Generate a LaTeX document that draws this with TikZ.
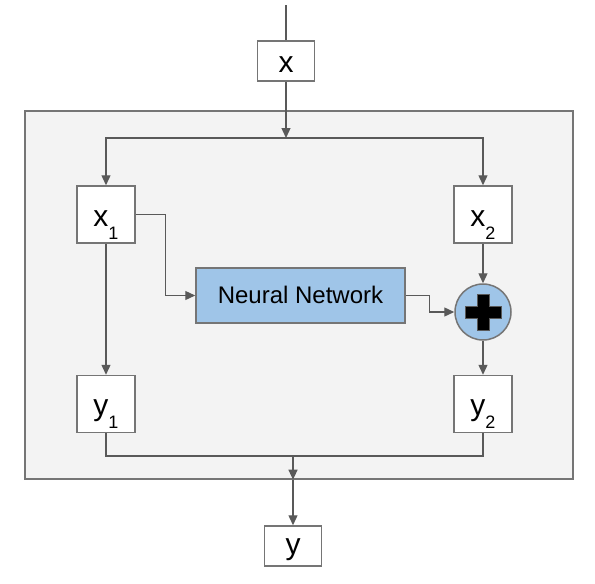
\documentclass[tikz,border=0pt]{standalone}
\usepackage{fontspec}
\setmainfont{Liberation Sans}
\usetikzlibrary{arrows.meta,calc}
\definecolor{linec}{HTML}{595959}
\definecolor{boxc}{HTML}{757575}
\definecolor{outerfill}{HTML}{F3F3F3}
\definecolor{nnfill}{HTML}{9FC5E8}
\newcommand{\bigletter}[2]{\fontsize{30}{30}\selectfont #1\raisebox{-13pt}{\fontsize{18}{18}\selectfont #2}}
\tikzset{
  arr/.style={draw=linec,line width=1.3pt,-{Triangle[length=10pt,width=9pt]}},
  plainline/.style={draw=linec,line width=1.3pt},
  varbox/.style={draw=boxc,fill=white,line width=1.5pt,minimum width=58pt,minimum height=57pt,inner sep=0pt,text height=23pt,text depth=0pt},
  iobox/.style={draw=boxc,fill=white,line width=1.5pt,minimum width=57pt,minimum height=40pt,inner sep=0pt},
}
\begin{document}
\begin{tikzpicture}[x=1pt,y=-1pt]
\useasboundingbox (0,0) rectangle (595,584);
% outer box
\node[draw=boxc,fill=outerfill,line width=1.3pt,minimum width=548pt,minimum height=368pt,inner sep=0pt] (outer) at (299,295) {};
% nodes
\node[iobox,text height=23pt,text depth=0pt] (xbox) at (286,61) {\fontsize{30}{30}\selectfont x};
\node[iobox,text height=17pt,text depth=0pt] (ybox) at (293,546) {\fontsize{30}{30}\selectfont y};
\node[varbox] (x1) at (106,214.5) {\bigletter{x}{1}};
\node[varbox] (x2) at (483,214.5) {\bigletter{x}{2}};
\node[varbox,text height=22pt] (y1) at (106,404) {\bigletter{y}{1}};
\node[varbox,text height=22pt] (y2) at (483,404) {\bigletter{y}{2}};
\node[draw=boxc,fill=nnfill,line width=1.5pt,minimum width=209pt,minimum height=55pt,inner sep=0pt,text height=16pt,text depth=0pt] (nn) at (300.5,295.5) {\fontsize{24}{28}\selectfont Neural Network};
\node[circle,draw=boxc,fill=nnfill,line width=1.5pt,minimum size=56pt,inner sep=0pt] (plus) at (483,312) {};
\fill[black,draw=linec,line width=0.8pt] ($(plus)+(-6,-18)$) -- ++(12,0) -- ++(0,12) -- ++(12,0) -- ++(0,12) -- ++(-12,0) -- ++(0,12) -- ++(-12,0) -- ++(0,-12) -- ++(-12,0) -- ++(0,-12) -- ++(12,0) -- cycle;
% coordinates
\coordinate (top) at (286,5);
\coordinate (split) at (286,138);
\coordinate (merge) at (293,456);
\coordinate (ob) at (outer.south -| merge);
% connectors
\draw[plainline] (top) -- (xbox.north);
\draw[arr] (xbox.south) -- (split);
\draw[arr] (split) -| (x1.north);
\draw[arr] (split) -| (x2.north);
\draw[arr] (x1.east) -- ++(30,0) |- (nn.west);
\draw[arr] (x1.south) -- (y1.north);
\draw[arr] (nn.east) -- ++(24,0) |- (plus.west);
\draw[arr] (x2.south) -- (plus.north);
\draw[arr] (plus.south) -- (y2.north);
\draw[plainline] (y1.south) |- (merge) -| (y2.south);
\draw[arr] (merge) -- (ob);
\draw[arr] (ob) -- (ybox.north);
\end{tikzpicture}
\end{document}
